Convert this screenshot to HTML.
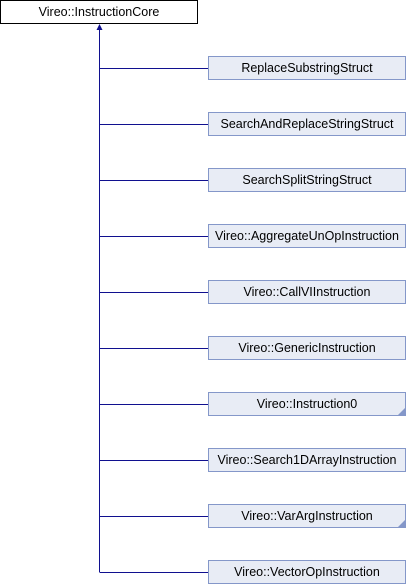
<!DOCTYPE html>
<html><head><style>
body{margin:0;width:406px;height:584px;background:#fff;position:relative;overflow:hidden;font-family:"Liberation Sans",Arial,sans-serif;font-size:12.5px}
.b{position:absolute;box-sizing:border-box;height:24px;line-height:22px;text-align:center;color:#000;white-space:nowrap}
.c{left:208px;width:198px;background:#e8ecf5;border:1px solid #8497c9}
</style></head><body>
<svg width="406" height="584" style="position:absolute;left:0;top:0">
<g stroke="#10108f" stroke-width="1" fill="none">
<line x1="99.5" y1="28" x2="99.5" y2="572"/>
<line x1="99.5" y1="68.5" x2="208" y2="68.5"/>
<line x1="99.5" y1="124.5" x2="208" y2="124.5"/>
<line x1="99.5" y1="180.5" x2="208" y2="180.5"/>
<line x1="99.5" y1="236.5" x2="208" y2="236.5"/>
<line x1="99.5" y1="292.5" x2="208" y2="292.5"/>
<line x1="99.5" y1="348.5" x2="208" y2="348.5"/>
<line x1="99.5" y1="404.5" x2="208" y2="404.5"/>
<line x1="99.5" y1="460.5" x2="208" y2="460.5"/>
<line x1="99.5" y1="516.5" x2="208" y2="516.5"/>
<line x1="99.5" y1="572.5" x2="208" y2="572.5"/>
</g>
<polygon points="99.5,24 96.5,30 102.5,30" fill="#10108f"/>
</svg>
<div class="b" style="left:0;top:0;width:198px;border:1px solid #000;background:#fff">Vireo::InstructionCore</div>
<div class="b c" style="top:56px">ReplaceSubstringStruct</div>
<div class="b c" style="top:112px">SearchAndReplaceStringStruct</div>
<div class="b c" style="top:168px">SearchSplitStringStruct</div>
<div class="b c" style="top:224px">Vireo::AggregateUnOpInstruction</div>
<div class="b c" style="top:280px">Vireo::CallVIInstruction</div>
<div class="b c" style="top:336px">Vireo::GenericInstruction</div>
<div class="b c" style="top:392px">Vireo::Instruction0</div>
<div class="b c" style="top:448px">Vireo::Search1DArrayInstruction</div>
<div class="b c" style="top:504px">Vireo::VarArgInstruction</div>
<div class="b c" style="top:560px">Vireo::VectorOpInstruction</div>
<svg width="406" height="584" style="position:absolute;left:0;top:0;pointer-events:none">
<polygon points="405,408 405,415 398,415" fill="#8497c9"/>
<polygon points="405,520 405,527 398,527" fill="#8497c9"/>
</svg>
</body></html>
